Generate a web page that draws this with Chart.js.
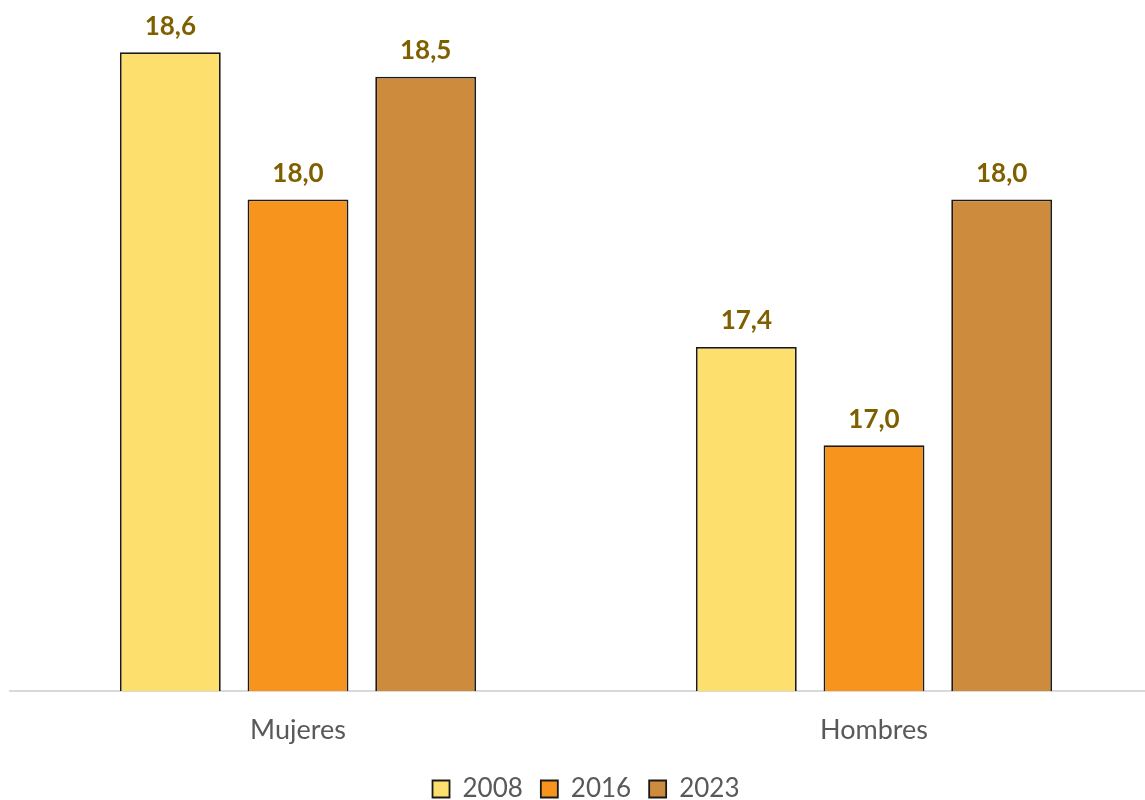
<!DOCTYPE html>
<html>
<head>
<meta charset="utf-8">
<script src="https://cdn.jsdelivr.net/npm/chart.js@4/dist/chart.umd.min.js"></script>
<style>
  html, body { margin: 0; padding: 0; background: #fff; }
  #wrap { width: 1145px; height: 800px; overflow: hidden; }
  #box { width: 1162px; height: 812px; }
</style>
</head>
<body>
<div id="wrap"><div id="box"><canvas id="myChart"></canvas></div></div>
<script>
var categories = ['Mujeres', 'Hombres'];
var years = ['2008', '2016', '2023'];
var values2008 = [18.6, 17.4];
var values2016 = [18.0, 17.0];
var values2023 = [18.5, 18.0];
var colors = ['#FDDF6D', '#F7941D', '#CD8B3E'];

// labels over the bars, comma decimal
var barLabels = {
    id: 'barLabels',
    afterDatasetsDraw: function(chart) {
        var ctx = chart.ctx;
        ctx.save();
        ctx.font = 'bold 26px Lato';
        ctx.fillStyle = '#7F6000';
        ctx.textAlign = 'center';
        ctx.textBaseline = 'middle';
        chart.data.datasets.forEach(function(ds, i) {
            chart.getDatasetMeta(i).data.forEach(function(bar, j) {
                ctx.fillText(ds.data[j].toFixed(1).replace('.', ','), bar.x, bar.y - 26);
            });
        });
        ctx.restore();
    }
};

var series = [values2008, values2016, values2023];
var datasets = years.map(function(y, i) {
    return {
        label: y,
        data: series[i],
        backgroundColor: colors[i],
        borderColor: '#1a1a1a',
        borderWidth: 1.8,
        barPercentage: 0.79,
        categoryPercentage: 0.665
    };
});

var ctx = document.getElementById('myChart').getContext('2d');
var myChart = new Chart(ctx, {
    type: 'bar',
    data: { labels: categories, datasets: datasets },
    plugins: [barLabels],
    options: {
        responsive: true,
        maintainAspectRatio: false,
        animation: false,
        layout: { padding: { top: 3, left: 10, right: 0, bottom: 0 } },
        plugins: {
            tooltip: { enabled: false },
            legend: {
                position: 'bottom',
                labels: {
                    font: { family: 'Lato', size: 26 },
                    color: '#595959',
                    boxWidth: 17,
                    boxHeight: 17,
                    padding: 18
                }
            }
        },
        scales: {
            x: {
                grid: { display: false, drawTicks: false },
                border: { color: '#d9d9d9', width: 2 },
                ticks: { font: { family: 'Lato', size: 27 }, color: '#595959', padding: 23 },
                afterFit: function(scale) { scale.height = 67; }
            },
            y: {
                display: false,
                min: 16,
                max: 18.8
            }
        }
    }
});
</script>
</body>
</html>
